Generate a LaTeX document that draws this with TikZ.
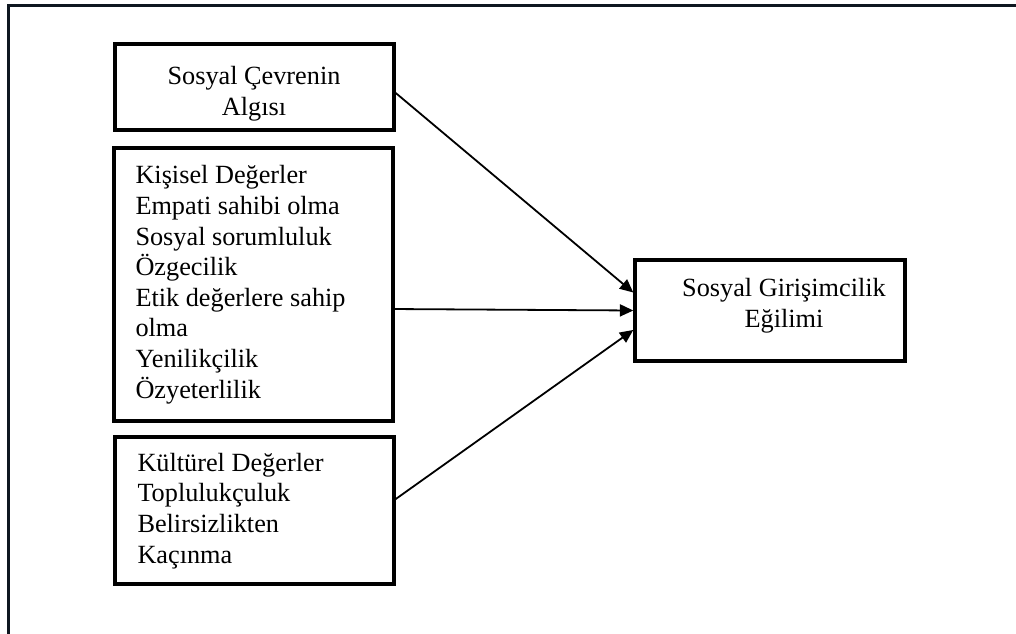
\documentclass[tikz,border=0pt]{standalone}
\usepackage{fontspec}
\setmainfont{Liberation Serif}
\usetikzlibrary{arrows.meta}

\tikzset{every picture/.style={line width=0.75pt}}
\definecolor{framecol}{RGB}{15,23,32}
\tikzset{
  kutu/.style={draw, line width=2.6pt, rectangle, inner sep=0pt},
  yazi/.style={inner sep=0pt, font=\fontsize{19.7}{22.95}\selectfont},
  ok/.style={line width=1.35pt, -{Triangle[length=10pt,width=9pt]}}
}

\begin{document}
\begin{tikzpicture}[x=0.75pt,y=0.75pt,yscale=-1,xscale=1]
\useasboundingbox (0,0) rectangle (1016,634);

%Frame
\draw [color=framecol, line width=2.4pt] (8.5,634) -- (8.5,5.5) -- (1016,5.5) ;

%Boxes
\node [kutu, minimum width=209.25pt, minimum height=64.5pt] (algi) at (254.5,87) {};
\node [kutu, minimum width=209.25pt, minimum height=204.75pt] (kisisel) at (253.5,284.5) {};
\node [kutu, minimum width=209.25pt, minimum height=110.25pt] (kultur) at (254.5,510.5) {};
\node [kutu, minimum width=202.5pt, minimum height=75.75pt] (egilim) at (770,310.5) {};

%Straight Lines
\draw [ok] ([yshift=4.5pt]algi.east) -- ([yshift=-13.5pt]egilim.west) ;
\draw [ok] ([yshift=18.4pt]kisisel.east) -- (egilim.west) ;
\draw [ok] ([yshift=-8.6pt]kultur.east) -- ([yshift=14.6pt]egilim.west) ;

% Text Node
\node [yazi, align=center, anchor=base] (t1) at (254,115.6) {Sosyal Çevrenin\\Algısı};
% Text Node
\node [yazi, align=left, anchor=base west] (t2) at (135,398) {Kişisel Değerler\\Empati sahibi olma\\Sosyal sorumluluk\\Özgecilik\\Etik değerlere sahip\\olma\\Yenilikçilik\\Özyeterlilik};
% Text Node
\node [yazi, align=left, anchor=base west] (t3) at (137,563) {Kültürel Değerler\\Toplulukçuluk\\Belirsizlikten\\Kaçınma};
% Text Node
\node [yazi, align=center, anchor=base] (t4) at (784,327) {Sosyal Girişimcilik\\Eğilimi};

\end{tikzpicture}
\end{document}
